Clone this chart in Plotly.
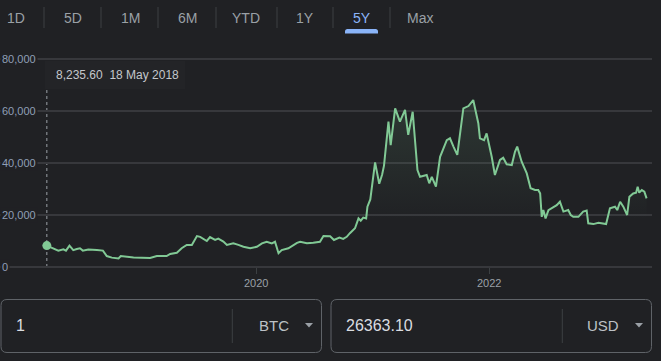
import plotly.graph_objects as go

# ---------------- data ----------------
dates = [
    "2018-03-15", "2018-04-05", "2018-04-20", "2018-05-06", "2018-05-14", "2018-05-25", "2018-06-06",
    "2018-06-17", "2018-06-27", "2018-07-06", "2018-07-23", "2018-08-19", "2018-09-07", "2018-09-19",
    "2018-10-05", "2018-10-26", "2018-11-02", "2018-12-12",
    "2019-02-02", "2019-02-23", "2019-03-26", "2019-04-06", "2019-04-27", "2019-05-12", "2019-05-28",
    "2019-06-13", "2019-06-29", "2019-07-09", "2019-07-21", "2019-07-30", "2019-08-09", "2019-08-25",
    "2019-09-04", "2019-09-20", "2019-10-01", "2019-10-21", "2019-11-06", "2019-11-22", "2019-12-13",
    "2020-01-03", "2020-01-19", "2020-02-03", "2020-02-19", "2020-02-29", "2020-03-11", "2020-03-21",
    "2020-04-11", "2020-04-27", "2020-05-08", "2020-05-18", "2020-06-08", "2020-06-28", "2020-07-19",
    "2020-07-30", "2020-08-20", "2020-09-01", "2020-09-18", "2020-09-30", "2020-10-11", "2020-10-21",
    "2020-11-06", "2020-11-17", "2020-11-24", "2020-12-02", "2020-12-11", "2020-12-15", "2020-12-24",
    "2021-01-08", "2021-01-21", "2021-01-30", "2021-02-05", "2021-02-19", "2021-02-26", "2021-03-12",
    "2021-03-27", "2021-04-12", "2021-04-22", "2021-05-06", "2021-05-21", "2021-05-29", "2021-06-19",
    "2021-06-27", "2021-07-05", "2021-07-18", "2021-07-31", "2021-08-21", "2021-08-31", "2021-09-11",
    "2021-09-23", "2021-10-12", "2021-10-28", "2021-11-12", "2021-11-28", "2021-12-03", "2021-12-16",
    "2021-12-24",
    "2022-01-09", "2022-01-19", "2022-02-04", "2022-02-14", "2022-02-25", "2022-03-13", "2022-03-23",
    "2022-03-30", "2022-04-13", "2022-04-29", "2022-05-11", "2022-05-25", "2022-06-04", "2022-06-10",
    "2022-06-15", "2022-06-20", "2022-06-27", "2022-07-06", "2022-07-16", "2022-08-01", "2022-08-11",
    "2022-08-22", "2022-09-06", "2022-09-14", "2022-09-22", "2022-10-08", "2022-10-23", "2022-11-03",
    "2022-11-08", "2022-11-24", "2022-12-10",
    "2023-01-03", "2023-01-15", "2023-01-31", "2023-02-07", "2023-02-16", "2023-02-26", "2023-03-10",
    "2023-03-17", "2023-03-29", "2023-04-07", "2023-04-12", "2023-04-17", "2023-04-25", "2023-05-03",
    "2023-05-10",
]
prices = [
    8235.6, 7200, 6300, 6800, 6300, 8200, 6500, 6900, 7200, 6300, 6700, 6500, 6300, 4200, 3600, 3300, 4200, 3700,
    3500, 4200, 4200, 5000, 5500, 7200, 8500, 8500, 11900, 11600, 10700, 10000, 11500, 10400, 10900, 9800,
    8500, 9100, 8500, 7800, 7200,
    7800, 9100, 9700, 9100, 9700, 5300, 6500, 7200, 8500, 9300, 9700, 9100, 9300, 9700, 11900, 11800, 10400,
    11300, 10800, 11600, 13000, 14900, 18700, 17800, 19000, 18700, 23200, 26000,
    40200, 32000, 35500, 39000, 55900, 46900, 61000, 55900, 60400, 50800, 59700, 37300, 34700, 35400, 32200,
    34700, 30900, 42400, 48800, 49500, 46300, 43100, 61000, 61900, 64200, 55300, 49500, 48800, 51400,
    42400, 35400, 41200, 42000, 39500, 39200, 44300, 46300, 40500, 36000, 30300, 29600, 29600, 28300, 19300,
    21900, 18700, 21900, 22600, 23800, 25100, 21300, 21900, 20000, 19300, 19300, 21300, 21700, 16800, 16500,
    17000,
    16500, 22600, 23200, 21900, 25100, 23200, 20000, 27000, 28300, 28600, 30900, 28600, 29600, 29000, 26400,
]

y_tick_values = [0, 20000, 40000, 60000, 80000]
y_tick_labels = ["0", "20,000", "40,000", "60,000", "80,000"]
x_tick_values = ["2020-01-01", "2022-01-01"]
x_tick_labels = ["2020", "2022"]

tabs = ["1D", "5D", "1M", "6M", "YTD", "1Y", "5Y", "Max"]
active_tab = "5Y"
tooltip_price = "8,235.60"
tooltip_date = "18 May 2018"
amount_from, currency_from = "1", "BTC"
amount_to, currency_to = "26363.10", "USD"

# ---------------- styling / layout ----------------
W, H = 661, 361
ML, MR, MT, MB = 0, 9, 50, 94
PW, PH = W - ML - MR, H - MT - MB
BG = "#202124"
GRID = "#37383c"
LINE = "#81c995"
FONT = "Liberation Sans, Arial, sans-serif"


def X(px):
    return (px - ML) / PW


def Y(py):
    return (H - MB - py) / PH


def rrect(x0, y0, x1, y1, r, top_only=False):
    rb = 0 if top_only else r
    return (f"M {X(x0 + r)},{Y(y0)} L {X(x1 - r)},{Y(y0)} Q {X(x1)},{Y(y0)} {X(x1)},{Y(y0 + r)} "
            f"L {X(x1)},{Y(y1 - rb)} Q {X(x1)},{Y(y1)} {X(x1 - rb)},{Y(y1)} "
            f"L {X(x0 + rb)},{Y(y1)} Q {X(x0)},{Y(y1)} {X(x0)},{Y(y1 - rb)} "
            f"L {X(x0)},{Y(y0 + r)} Q {X(x0)},{Y(y0)} {X(x0 + r)},{Y(y0)} Z")


fig = go.Figure()
fig.add_trace(go.Scatter(
    x=dates, y=prices, mode="lines",
    line=dict(color=LINE, width=2),
    fill="tozeroy",
    fillgradient=dict(type="vertical", start=18000, stop=66000,
                      colorscale=[[0, "rgba(129,201,149,0)"], [1, "rgba(129,201,149,0.14)"]]),
    hoverinfo="skip",
))
fig.add_trace(go.Scatter(
    x=[dates[0]], y=[prices[0]], mode="markers",
    marker=dict(color=LINE, size=9), hoverinfo="skip",
))

shapes = []
annotations = []

# y tick labels (masking the grid like the original)
for v, t in zip(y_tick_values, y_tick_labels):
    annotations.append(dict(x=0, xref="paper", xanchor="left", y=v, yref="y", yanchor="middle",
                            text=t, showarrow=False, bgcolor=BG, borderpad=1,
                            font=dict(family=FONT, size=11, color="#8f9fb6")))

# tabs
tab_centers = [16, 73, 130, 187, 246, 305, 362, 420]
separators = [44, 101, 158, 216, 277, 333, 390]
for t, cx in zip(tabs, tab_centers):
    annotations.append(dict(x=X(cx), xref="paper", y=Y(18), yref="paper", xanchor="center",
                            yanchor="middle", text=t, showarrow=False,
                            font=dict(family=FONT, size=14,
                                      color="#8ab4f8" if t == active_tab else "#9aa0a6")))
for sx in separators:
    shapes.append(dict(type="line", xref="paper", yref="paper", x0=X(sx), x1=X(sx), y0=Y(7), y1=Y(28),
                       line=dict(color="#3c4043", width=1)))
# active underline
shapes.append(dict(type="path", xref="paper", yref="paper", path=rrect(345, 29, 378, 33.5, 2.5, top_only=True),
                   fillcolor="#8ab4f8", line=dict(width=0)))

# tooltip
shapes.append(dict(type="rect", xref="paper", yref="paper", x0=X(45), x1=X(185), y0=Y(61), y1=Y(89),
                   fillcolor="#232427", line=dict(width=0), layer="above"))
annotations.append(dict(x=X(54), xref="paper", y=Y(75), yref="paper", xanchor="left", yanchor="middle",
                        text=tooltip_price + "\u00a0\u00a0" + tooltip_date, showarrow=False,
                        font=dict(family=FONT, size=12, color="#c4c7cc")))
shapes.append(dict(type="line", xref="x", yref="paper", x0=dates[0], x1=dates[0], y0=0, y1=Y(89),
                   line=dict(color="#9aa0a6", width=1, dash="dot"), layer="below"))

# converter boxes
for (bx0, bx1, sep, val, cur, tri) in [(1, 321.5, 232.3, amount_from, currency_from, 305),
                                         (331, 651.5, 562.3, amount_to, currency_to, 635)]:
    shapes.append(dict(type="path", xref="paper", yref="paper", path=rrect(bx0, 299.5, bx1, 352.5, 6),
                       line=dict(color="#5f6368", width=1), fillcolor="rgba(0,0,0,0)"))
    shapes.append(dict(type="line", xref="paper", yref="paper", x0=X(sep), x1=X(sep), y0=Y(309), y1=Y(343),
                       line=dict(color="#3c4043", width=1)))
    shapes.append(dict(type="path", xref="paper", yref="paper",
                       path=f"M {X(tri)},{Y(323)} L {X(tri + 8)},{Y(323)} L {X(tri + 4)},{Y(327.5)} Z",
                       fillcolor="#9aa0a6", line=dict(width=0)))
    annotations.append(dict(x=X(bx0 + 13), xref="paper", y=Y(325.5), yref="paper", xanchor="left",
                            yanchor="middle", text=val, showarrow=False,
                            font=dict(family=FONT, size=16, color="#dadce0")))
    annotations.append(dict(x=X(tri - 14), xref="paper", y=Y(325.5), yref="paper", xanchor="right",
                            yanchor="middle", text=cur, showarrow=False,
                            font=dict(family=FONT, size=15, color="#bdc1c6")))

fig.update_layout(
    width=W, height=H,
    margin=dict(l=ML, r=MR, t=MT, b=MB, pad=0),
    paper_bgcolor=BG, plot_bgcolor=BG,
    showlegend=False,
    shapes=shapes, annotations=annotations,
    font=dict(family=FONT),
    hovermode=False,
    xaxis=dict(type="date", range=["2017-10-19", "2023-05-27"],
               tickvals=x_tick_values, ticktext=x_tick_labels,
               ticks="outside", ticklen=6, tickcolor="#3c4043", tickwidth=1,
               showgrid=False, zeroline=False, showline=False,
               tickfont=dict(family=FONT, size=11, color="#9aa0a6"), fixedrange=True),
    yaxis=dict(range=[0, 83462], tickvals=y_tick_values, showticklabels=False,
               showgrid=True, gridcolor=GRID, gridwidth=2,
               zeroline=True, zerolinecolor=GRID, zerolinewidth=2, showline=False,
               fixedrange=True),
)

fig.write_html("out.html", config={"displayModeBar": False},
               post_script="document.body.style.margin='0px';document.body.style.background='#202124';")
